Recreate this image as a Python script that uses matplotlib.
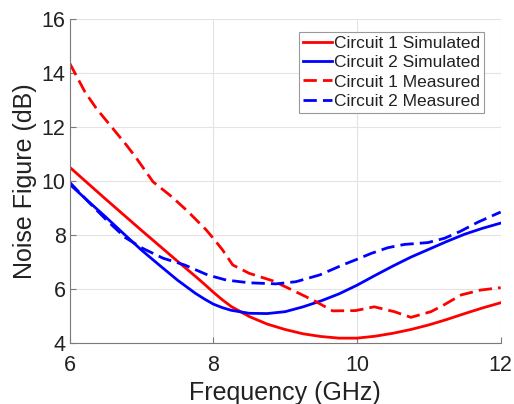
import matplotlib
matplotlib.use('Agg')
import matplotlib.pyplot as plt

# simulated curves (GHz, dB)
sim_freq = [6.0, 6.25, 6.5, 6.75, 7.0, 7.25, 7.5, 7.75, 7.875, 8.0, 8.125, 8.25, 8.5, 8.75,
            9.0, 9.25, 9.5, 9.75, 10.0, 10.25, 10.5, 10.75, 11.0, 11.25, 11.5, 11.75, 12.0]
c1_sim = [10.51, 9.92, 9.33, 8.75, 8.17, 7.6, 7.03, 6.47, 6.18, 5.88, 5.6, 5.35, 4.98, 4.7,
          4.5, 4.34, 4.24, 4.18, 4.18, 4.25, 4.36, 4.5, 4.67, 4.87, 5.09, 5.3, 5.49]
c2_sim = [9.88, 9.27, 8.67, 8.05, 7.44, 6.88, 6.33, 5.84, 5.63, 5.44, 5.31, 5.21, 5.1, 5.09,
          5.16, 5.34, 5.56, 5.82, 6.14, 6.5, 6.85, 7.18, 7.47, 7.76, 8.03, 8.25, 8.44]

# measured curves
c1_freq = [6.0, 6.21, 6.37, 6.58, 6.79, 6.93, 7.16, 7.42, 7.65, 7.9, 8.02, 8.13,
           8.27, 8.5, 8.83, 9.1, 9.43, 9.66, 9.98, 10.24, 10.52, 10.75, 11.03,
           11.21, 11.45, 11.72, 12.0]
c1_meas = [14.36, 13.31, 12.69, 12.01, 11.33, 10.84, 9.97, 9.42, 8.86, 8.19, 7.81, 7.44,
           6.89, 6.58, 6.3, 5.96, 5.53, 5.19, 5.2, 5.34, 5.16, 4.95, 5.16,
           5.41, 5.78, 5.96, 6.05]
c2_freq = [6.0, 6.26, 6.51, 6.77, 7.02, 7.3, 7.6, 7.92, 8.18, 8.5, 8.87, 9.15,
           9.48, 9.8, 10.0, 10.2, 10.43, 10.66, 10.99, 11.22, 11.45, 11.68, 12.0]
c2_meas = [9.95, 9.23, 8.56, 7.91, 7.5, 7.14, 6.89, 6.52, 6.33, 6.23, 6.19, 6.27,
           6.52, 6.89, 7.1, 7.32, 7.53, 7.65, 7.72, 7.88, 8.15, 8.47, 8.85]

plt.rcParams['font.family'] = ['Liberation Sans', 'DejaVu Sans']

fig = plt.figure(figsize=(5.14, 4.04), dpi=100)
ax = fig.add_axes([0.1356, 0.151, 0.8384, 0.802])

dash = (4.8, 2.2)
ax.plot(sim_freq, c1_sim, color='red', lw=2, label='Circuit 1 Simulated')
ax.plot(sim_freq, c2_sim, color='blue', lw=2, label='Circuit 2 Simulated')
ax.plot(c1_freq, c1_meas, color='red', lw=2, dashes=dash, label='Circuit 1 Measured')
ax.plot(c2_freq, c2_meas, color='blue', lw=2, dashes=dash, label='Circuit 2 Measured')

ax.set_xlim(6, 12)
ax.set_ylim(4, 16)
ax.set_xticks([6, 8, 10, 12])
ax.set_yticks([4, 6, 8, 10, 12, 14, 16])
ax.grid(True, color='#e3e3e3', lw=0.8)
ax.set_axisbelow(True)

for side in ['top', 'right']:
    ax.spines[side].set_visible(False)
for side in ['left', 'bottom']:
    ax.spines[side].set_color('#7a7a7a')
    ax.spines[side].set_linewidth(0.8)
ax.tick_params(direction='in', length=4, width=0.8, color='#7a7a7a',
               labelsize=15.5, labelcolor='#222222')
ax.tick_params(axis='x', pad=8.5)
ax.tick_params(axis='y', pad=3)

ax.set_xlabel('Frequency (GHz)', fontsize=18, color='#222222', labelpad=3.5)
ax.set_ylabel('Noise Figure (dB)', fontsize=18, color='#222222', labelpad=3.5)

leg = ax.legend(loc='upper right', bbox_to_anchor=(0.962, 0.959), borderaxespad=0,
                fontsize=12.5, handlelength=1.65, handletextpad=0.15,
                labelspacing=0.23, borderpad=0.22, fancybox=False, framealpha=1)
leg.get_frame().set_edgecolor('#999999')
leg.get_frame().set_linewidth(0.8)
for t in leg.get_texts():
    t.set_color('#222222')

fig.savefig('out.png', dpi=100)
